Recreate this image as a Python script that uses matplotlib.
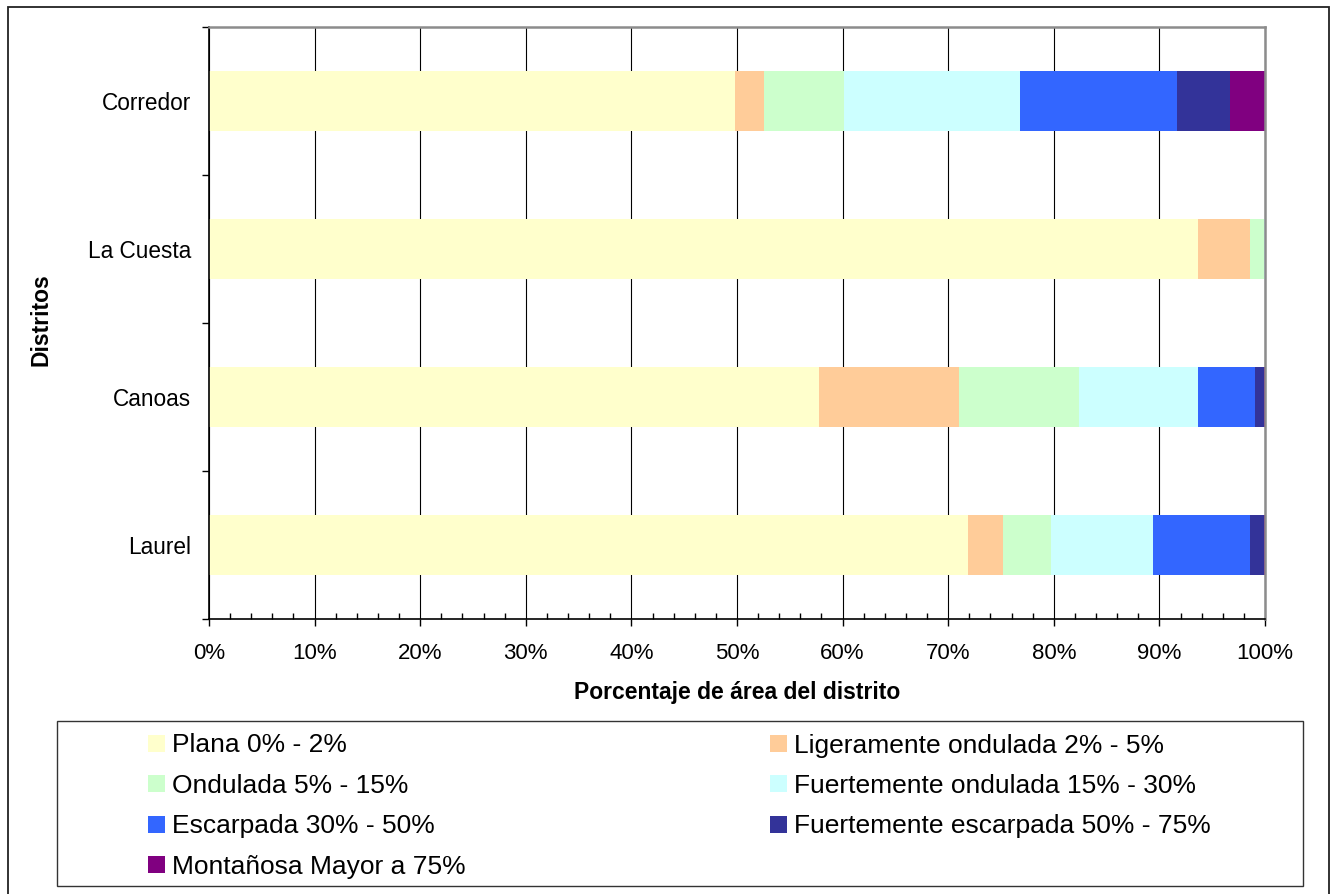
import matplotlib.pyplot as plt
from matplotlib.patches import Rectangle
from matplotlib.ticker import PercentFormatter, MultipleLocator, FixedLocator
import numpy as np

plt.rcParams['font.family'] = ['Liberation Sans', 'DejaVu Sans']

# distritos de abajo hacia arriba
distritos = ['Laurel', 'Canoas', 'La Cuesta', 'Corredor']

series = [
    'Plana 0% - 2%',
    'Ligeramente ondulada 2% - 5%',
    'Ondulada 5% - 15%',
    'Fuertemente ondulada 15% - 30%',
    'Escarpada 30% - 50%',
    'Fuertemente escarpada 50% - 75%',
    'Montañosa Mayor a 75%',
]

# porcentaje de área por clase de pendiente (Laurel, Canoas, La Cuesta, Corredor)
plana = [71.9, 57.8, 93.7, 49.8]
ligeramente = [3.3, 13.2, 4.9, 2.8]
ondulada = [4.5, 11.4, 1.3, 7.5]
fuerte_ondulada = [9.7, 11.3, 0.1, 16.7]
escarpada = [9.2, 5.4, 0.0, 14.9]
fuerte_escarpada = [1.3, 0.8, 0.0, 5.0]
montanosa = [0.1, 0.1, 0.0, 3.3]

colores = ['#FFFFCC', '#FFCC99', '#CCFFCC', '#CCFFFF', '#3366FF', '#333399', '#800080']

W, H = 1330, 894
fig = plt.figure(figsize=(W / 100, H / 100), dpi=100)


def fx(px):
    return px / W


def fy(py):
    return 1 - py / H


ax = fig.add_axes([fx(209), fy(619), fx(1265) - fx(209), fy(27) - fy(619)])

valores = np.array([plana, ligeramente, ondulada, fuerte_ondulada,
                    escarpada, fuerte_escarpada, montanosa])
totales = valores.sum(axis=0)
y = np.arange(len(distritos))
izq = np.zeros(len(distritos))
for nombre, fila, color in zip(series, valores, colores):
    ancho = fila / totales
    ax.barh(y, ancho, left=izq, height=0.4, color=color, label=nombre, zorder=2)
    izq += ancho

ax.set_xlim(0, 1)
ax.set_ylim(-0.5, len(distritos) - 0.5)
ax.xaxis.set_major_locator(MultipleLocator(0.1))
ax.xaxis.set_minor_locator(MultipleLocator(0.02))
ax.xaxis.set_major_formatter(PercentFormatter(1.0, decimals=0))
ax.grid(axis='x', which='major', color='black', linewidth=0.8, zorder=1)
ax.set_axisbelow(True)

ax.tick_params(axis='x', which='major', direction='out', length=5, width=1,
               labelsize=16, pad=12)
ax.tick_params(axis='x', which='minor', direction='in', length=4, width=1)

# ticks de y en los bordes de cada categoría, etiquetas en el centro
ax.yaxis.set_major_locator(FixedLocator(np.arange(-0.5, len(distritos), 1.0)))
ax.yaxis.set_major_formatter(plt.NullFormatter())
ax.yaxis.set_minor_locator(FixedLocator(y))
ax.set_yticklabels(distritos, minor=True)
ax.tick_params(axis='y', which='major', direction='out', length=5, width=1)
ax.tick_params(axis='y', which='minor', length=0, labelsize=16.3, pad=13)

for lado in ['left', 'bottom']:
    ax.spines[lado].set_color('black')
    ax.spines[lado].set_linewidth(1.2)
for lado in ['top', 'right']:
    ax.spines[lado].set_color('#8c8c8c')
    ax.spines[lado].set_linewidth(1.8)

fig.text(fx(737), fy(692), 'Porcentaje de área del distrito', ha='center', va='center',
         fontsize=16.5, fontweight='bold')
fig.text(fx(41), fy(320), 'Distritos', ha='center', va='center', rotation=90,
         fontsize=16.5, fontweight='bold')

# marco exterior
fig.patches.append(Rectangle((fx(8), fy(905)), fx(1329) - fx(8), fy(7) - fy(905),
                             transform=fig.transFigure, fill=False,
                             edgecolor='#222222', linewidth=1.3, clip_on=False))

# leyenda en dos columnas, por filas
fig.patches.append(Rectangle((fx(57), fy(886)), fx(1303) - fx(57), fy(721) - fy(886),
                             transform=fig.transFigure, fill=False,
                             edgecolor='#333333', linewidth=1.0))
col_x = [148, 770]
fila_y = [743, 783.5, 824, 864.5]
for i, (nombre, color) in enumerate(zip(series, colores)):
    cx = col_x[i % 2]
    cy = fila_y[i // 2]
    fig.patches.append(Rectangle((fx(cx), fy(cy + 8.5)), fx(17), 17 / H,
                                 transform=fig.transFigure, facecolor=color,
                                 edgecolor='none'))
    fig.text(fx(cx + 24), fy(cy), nombre, ha='left', va='center_baseline', fontsize=19)

fig.savefig('out.png', dpi=100)
